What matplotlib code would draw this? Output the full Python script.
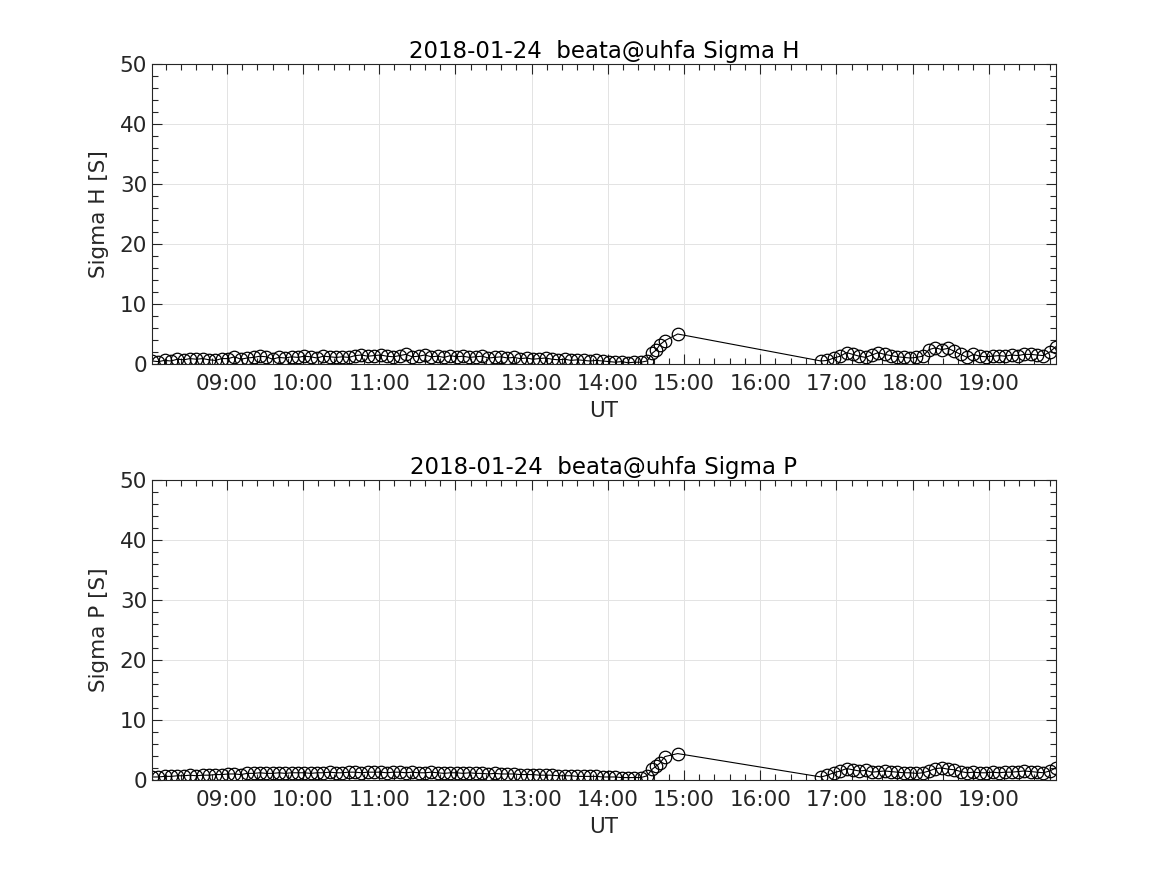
import numpy as np
import pandas as pd
import matplotlib
matplotlib.use('Agg')
import matplotlib.pyplot as plt
import matplotlib.dates as mdates

DAY = '2018-01-24'

# first block: 5 minute samples from 08:01 to 14:31, then a few irregular ones
start1 = DAY + ' 08:01'
n1 = 79
tail_times = ['14:35', '14:38', '14:41', '14:45', '14:55']
# second block after the gap
start2 = DAY + ' 16:48'
n2 = 38

sigma_h_1 = [0.5, 0.4, 0.6, 0.5, 0.8, 0.7, 0.9, 0.8, 0.9, 0.7, 0.6, 0.9,
             0.9, 1.2, 0.8, 1.0, 1.1, 1.3, 1.2, 0.8, 1.1, 1.0, 1.2, 1.1,
             1.3, 1.2, 1.0, 1.3, 1.2, 1.1, 1.2, 1.1, 1.4, 1.5, 1.3, 1.4,
             1.5, 1.3, 1.2, 1.4, 1.6, 1.2, 1.3, 1.5, 1.2, 1.3, 1.1, 1.4,
             1.2, 1.3, 1.1, 1.2, 1.3, 1.0, 1.1, 1.2, 1.0, 1.1, 0.9, 1.0,
             0.8, 0.9, 1.0, 0.8, 0.7, 0.8, 0.6, 0.7, 0.6, 0.5, 0.6, 0.5,
             0.4, 0.3, 0.4, 0.2, 0.3, 0.3, 0.5]
sigma_h_tail = [1.8, 2.3, 3.2, 3.9, 5.0]
sigma_h_2 = [0.5, 0.6, 1.0, 1.3, 1.9, 1.6, 1.3, 1.1, 1.5, 1.9, 1.6, 1.4,
             1.2, 1.1, 1.0, 1.1, 1.3, 2.4, 2.7, 2.4, 2.6, 2.1, 1.6, 1.1,
             1.6, 1.3, 1.2, 1.3, 1.4, 1.3, 1.5, 1.4, 1.6, 1.6, 1.5, 1.4,
             2.0, 2.9]

sigma_p_1 = [0.5, 0.5, 0.6, 0.6, 0.7, 0.7, 0.8, 0.7, 0.8, 0.8, 0.9, 0.9,
             1.0, 1.0, 0.9, 1.1, 1.1, 1.2, 1.1, 1.1, 1.2, 1.1, 1.2, 1.2,
             1.2, 1.1, 1.2, 1.2, 1.3, 1.2, 1.2, 1.3, 1.3, 1.2, 1.3, 1.3,
             1.3, 1.2, 1.3, 1.3, 1.2, 1.3, 1.2, 1.2, 1.3, 1.2, 1.1, 1.2,
             1.2, 1.1, 1.2, 1.1, 1.1, 1.0, 1.1, 1.0, 1.0, 1.0, 0.9, 0.9,
             0.9, 0.8, 0.8, 0.8, 0.7, 0.7, 0.7, 0.6, 0.6, 0.6, 0.6, 0.5,
             0.5, 0.5, 0.4, 0.4, 0.4, 0.4, 0.7]
sigma_p_tail = [1.8, 2.3, 2.8, 3.9, 4.4]
sigma_p_2 = [0.5, 0.8, 1.2, 1.5, 1.9, 1.7, 1.5, 1.6, 1.3, 1.4, 1.5, 1.4,
             1.3, 1.2, 1.2, 1.1, 1.2, 1.5, 1.9, 2.0, 1.8, 1.7, 1.4, 1.2,
             1.3, 1.2, 1.2, 1.3, 1.2, 1.3, 1.3, 1.4, 1.5, 1.4, 1.3, 1.2,
             1.5, 2.0]

times = np.concatenate([
    pd.date_range(start1, periods=n1, freq='5min').values,
    pd.to_datetime([DAY + ' ' + t for t in tail_times]).values,
    pd.date_range(start2, periods=n2, freq='5min').values,
])
sigma_h = sigma_h_1 + sigma_h_tail + sigma_h_2
sigma_p = sigma_p_1 + sigma_p_tail + sigma_p_2

dark = '#262626'
plt.rcParams['font.family'] = 'DejaVu Sans'
plt.rcParams['font.size'] = 15

fig = plt.figure(figsize=(11.67, 8.75), dpi=100)
ax1 = fig.add_axes([0.1302, 0.584, 0.7747, 0.3429])
ax2 = fig.add_axes([0.1302, 0.1086, 0.7747, 0.3429])

for ax, y, name in [(ax1, sigma_h, 'H'), (ax2, sigma_p, 'P')]:
    ax.plot(times, y, '-o', color='black', lw=0.8, markersize=9,
            markerfacecolor='none', markeredgewidth=0.9)
    ax.set_xlim(times[0], times[-1])
    ax.set_ylim(0, 50)
    ax.set_yticks([0, 10, 20, 30, 40, 50])
    ax.yaxis.set_minor_locator(plt.MultipleLocator(2))
    ax.xaxis.set_major_locator(mdates.HourLocator())
    ax.xaxis.set_minor_locator(mdates.MinuteLocator(byminute=[0, 12, 24, 36, 48]))
    ax.xaxis.set_major_formatter(mdates.DateFormatter('%H:%M'))
    ax.grid(True, which='major', color='#e3e3e3', lw=0.7)
    ax.set_axisbelow(True)
    ax.tick_params(which='both', direction='in', top=True, right=True,
                   colors=dark, labelsize=15.5)
    ax.tick_params(axis='x', pad=7)
    ax.tick_params(which='major', length=7, width=0.8)
    ax.tick_params(which='minor', length=4, width=0.8)
    for s in ax.spines.values():
        s.set_color(dark)
        s.set_linewidth(0.8)
    ax.set_title(DAY + '  beata@uhfa Sigma ' + name, fontsize=16.5, color='black', pad=4)
    ax.set_ylabel('Sigma ' + name + ' [S]', fontsize=15.5, color=dark, labelpad=8)
    ax.set_xlabel('UT', fontsize=15.5, color=dark, labelpad=5)

fig.savefig('out.png', dpi=100)
